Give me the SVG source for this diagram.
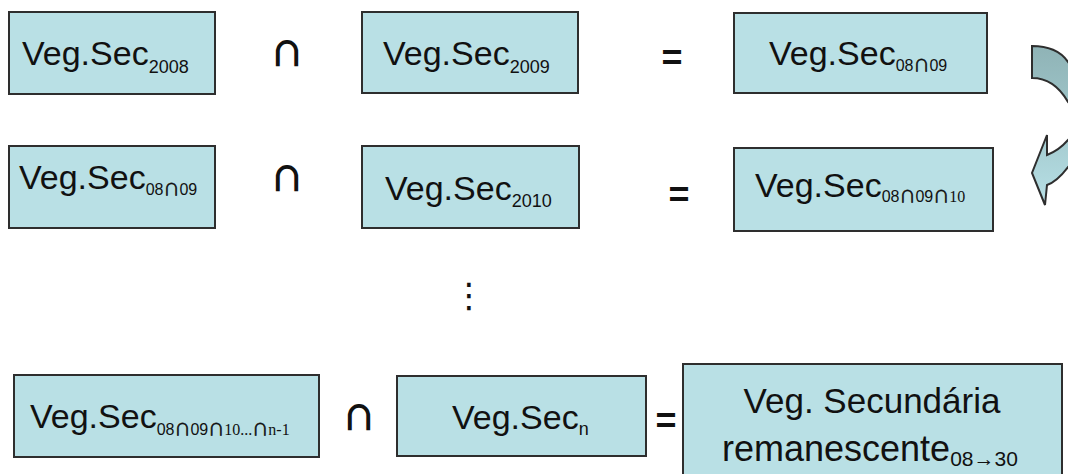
<svg xmlns="http://www.w3.org/2000/svg" width="1068" height="474" viewBox="0 0 1068 474">
<style>
.box{fill:#b9e0e5;stroke:#2e2e2e;stroke-width:2}
.t{font-family:"Liberation Sans",Arial,sans-serif;font-size:34px;fill:#111}
.s{font-size:18px}
.c{font-family:"Liberation Sans",Arial,sans-serif;font-size:16px}
.cap{font-family:"Noto Sans CJK SC","DejaVu Sans",sans-serif;font-size:16px;stroke:#111;stroke-width:0.6}
.ser{font-family:"Liberation Serif",serif;font-size:16px}
.op{font-family:"Noto Sans CJK SC","DejaVu Sans",sans-serif;font-size:32px;fill:#111;stroke:#111;stroke-width:1.6;text-anchor:middle}
.eq{font-family:"Liberation Sans",Arial,sans-serif;font-size:36px;font-weight:bold;fill:#111;text-anchor:middle}
</style>
<defs>
<linearGradient id="ag" x1="0" y1="0" x2="0" y2="1">
<stop offset="0" stop-color="#8fb3b6"/>
<stop offset="0.45" stop-color="#9fc6ca"/>
<stop offset="1" stop-color="#b8e0e6"/>
</linearGradient>
</defs>
<rect width="1068" height="474" fill="#ffffff"/>

<g id="n1"><rect class="box" x="9" y="12" width="206" height="82"/>
<text class="t" x="22" y="65">Veg.Sec<tspan class="s" dy="8">2008</tspan></text></g>
<g id="n2"><rect class="box" x="362" y="12" width="216" height="81"/>
<text class="t" x="383" y="65">Veg.Sec<tspan class="s" dy="8">2009</tspan></text></g>
<g id="n3"><rect class="box" x="734" y="13" width="253" height="80"/>
<text class="t" x="769" y="65">Veg.Sec<tspan class="c" dy="6">08</tspan><tspan class="cap">∩</tspan><tspan class="c">09</tspan></text></g>

<g id="n4"><rect class="box" x="9" y="146" width="206" height="82"/>
<text class="t" x="19" y="189">Veg.Sec<tspan class="c" dy="6">08</tspan><tspan class="cap">∩</tspan><tspan class="c">09</tspan></text></g>
<g id="n5"><rect class="box" x="362" y="146" width="217" height="82"/>
<text class="t" x="385" y="200">Veg.Sec<tspan class="s" dy="7">2010</tspan></text></g>
<g id="n6"><rect class="box" x="734" y="148" width="259" height="83"/>
<text class="t" x="755" y="197">Veg.Sec<tspan class="c" dy="5">08</tspan><tspan class="cap">∩</tspan><tspan class="c">09</tspan><tspan class="cap">∩</tspan><tspan class="ser">10</tspan></text></g>

<g id="n7"><rect class="box" x="14" y="375" width="305" height="82"/>
<text class="t" x="30" y="428">Veg.Sec<tspan class="c" dy="7">08</tspan><tspan class="cap">∩</tspan><tspan class="c">09</tspan><tspan class="cap">∩</tspan><tspan class="ser">10...</tspan><tspan class="cap">∩</tspan><tspan class="ser">n-1</tspan></text></g>
<g id="n8"><rect class="box" x="397" y="376" width="249" height="80"/>
<text class="t" x="452" y="429">Veg.Sec<tspan class="s" dy="6">n</tspan></text></g>
<g id="n9"><rect class="box" x="683" y="364" width="379" height="115"/>
<text class="t" x="872" y="413" text-anchor="middle" style="font-size:35px">Veg. Secundária</text>
<text class="t" x="722" y="461" style="font-size:36px">remanescente<tspan style="font-size:21px" dy="5">08→30</tspan></text></g>

<g id="operators">
<text class="op" x="287" y="65">∩</text>
<text class="op" x="287" y="190">∩</text>
<text class="op" x="359" y="429">∩</text>
<text class="eq" x="672" y="70">=</text>
<text class="eq" x="679" y="207">=</text>
<text class="eq" x="666" y="433">=</text>
<text x="469" y="307" text-anchor="middle" style="font-family:'DejaVu Sans',sans-serif;font-size:34px;fill:#111">⋮</text>
</g>

<g id="connectors">
<path d="M1032,46 C1050,46 1062,53 1068,62 C1095,100 1090,150 1068,167 C1062,175 1055,182 1047,185 L1045,205 L1032,173 L1047,135 L1047,155 C1055,152 1062,147 1068,140 C1078,128 1078,112 1068,102 C1060,88 1048,78 1032,78 Z" fill="url(#ag)" stroke="#2e2e2e" stroke-width="2" stroke-linejoin="miter"/>
</g>
</svg>
